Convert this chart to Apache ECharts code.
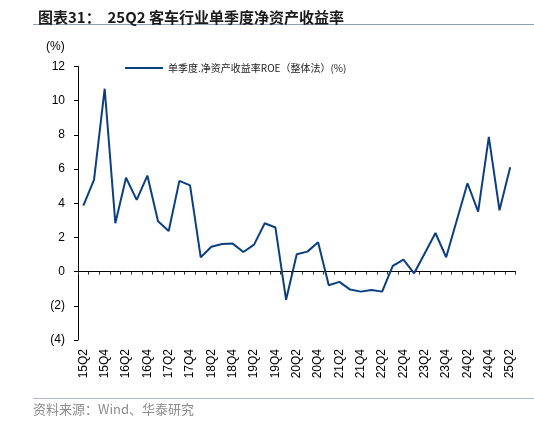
<!DOCTYPE html>
<html>
<head>
<meta charset="utf-8">
<script src="https://cdn.jsdelivr.net/npm/echarts@6/dist/echarts.min.js"></script>
<style>
html, body { margin: 0; padding: 0; background: #fff; }
#main { width: 534px; height: 423px; }
</style>
</head>
<body>
<div id="main"></div>
<script>
var quarters = [
    '15Q2', '15Q3', '15Q4', '16Q1', '16Q2', '16Q3', '16Q4', '17Q1', '17Q2', '17Q3', '17Q4',
    '18Q1', '18Q2', '18Q3', '18Q4', '19Q1', '19Q2', '19Q3', '19Q4', '20Q1', '20Q2', '20Q3',
    '20Q4', '21Q1', '21Q2', '21Q3', '21Q4', '22Q1', '22Q2', '22Q3', '22Q4', '23Q1', '23Q2',
    '23Q3', '23Q4', '24Q1', '24Q2', '24Q3', '24Q4', '25Q1', '25Q2'
];
var roeValues = [
    3.86, 5.37, 10.7, 2.83, 5.49, 4.2, 5.62, 2.95, 2.38, 5.31, 5.05,
    0.84, 1.46, 1.62, 1.64, 1.15, 1.58, 2.83, 2.58, -1.65, 1.02, 1.17,
    1.72, -0.8, -0.6, -1.05, -1.17, -1.07, -1.17, 0.33, 0.7, -0.1, 1.08,
    2.26, 0.84, 3.0, 5.17, 3.51, 7.88, 3.59, 6.1
];
var seriesName = '单季度.净资产收益率ROE（整体法）(%)';
var yMin = -4, yMax = 12, yStep = 2;

var chart = echarts.init(document.getElementById('main'));

var axisBlack = {color: '#000', width: 1};

chart.setOption({
    animation: false,
    backgroundColor: '#fff',
    textStyle: {fontFamily: 'Liberation Sans, Arial, sans-serif'},
    title: {
        text: '图表31：  25Q2 客车行业单季度净资产收益率',
        left: 33,
        top: 5,
        textStyle: {
            fontSize: 15,
            fontWeight: 'bold',
            color: '#1a1a1a',
            fontFamily: 'Noto Sans CJK SC, sans-serif'
        }
    },
    graphic: [
        {
            type: 'line',
            shape: {x1: 33, y1: 24.5, x2: 534, y2: 24.5},
            style: {stroke: '#8ea2be', lineWidth: 1}
        },
        {
            type: 'line',
            shape: {x1: 33, y1: 398.5, x2: 534, y2: 398.5},
            style: {stroke: '#a9b9cf', lineWidth: 1}
        },
        {
            type: 'text',
            left: 33,
            top: 403,
            style: {
                text: '资料来源：Wind、华泰研究',
                fill: '#8c8c8c',
                font: '13px "Noto Sans CJK SC", sans-serif'
            }
        },
        {
            type: 'text',
            left: 46,
            top: 41,
            style: {
                text: '(%)',
                fill: '#000',
                font: '12px "Liberation Sans", Arial, sans-serif'
            }
        }
    ],
    legend: {
        left: 120,
        top: 58,
        itemWidth: 38,
        itemHeight: 10,
        itemGap: 2,
        icon: 'path://M0,4 L38,4 L38,6 L0,6 Z',
        textStyle: {
            fontSize: 10,
            color: '#222',
            fontFamily: 'Noto Sans CJK SC, sans-serif'
        },
        data: [seriesName]
    },
    grid: {
        left: 78,
        right: 18.5,
        top: 66.5,
        bottom: 83
    },
    xAxis: [
        {
            type: 'category',
            data: quarters,
            boundaryGap: true,
            axisLine: {onZero: true, lineStyle: axisBlack},
            axisTick: {show: true, interval: 0, length: 3, lineStyle: {color: '#333'}},
            axisLabel: {show: false},
            splitLine: {show: false}
        },
        {
            type: 'category',
            data: quarters,
            position: 'bottom',
            boundaryGap: true,
            axisLine: {show: false},
            axisTick: {show: false},
            axisLabel: {
                interval: 1,
                rotate: 90,
                margin: 9,
                fontSize: 12,
                color: '#000'
            },
            splitLine: {show: false}
        }
    ],
    yAxis: {
        type: 'value',
        min: yMin,
        max: yMax,
        interval: yStep,
        axisLine: {show: true, lineStyle: axisBlack},
        axisTick: {show: true, length: 4, lineStyle: axisBlack},
        axisLabel: {
            fontSize: 12,
            color: '#000',
            margin: 13,
            formatter: function (v) {
                return v < 0 ? '(' + Math.abs(v) + ')' : String(v);
            }
        },
        splitLine: {show: false}
    },
    series: [{
        name: seriesName,
        type: 'line',
        xAxisIndex: 0,
        data: roeValues,
        symbol: 'none',
        lineStyle: {color: '#0c3f82', width: 2},
        itemStyle: {color: '#0c3f82'}
    }]
});
</script>
</body>
</html>
